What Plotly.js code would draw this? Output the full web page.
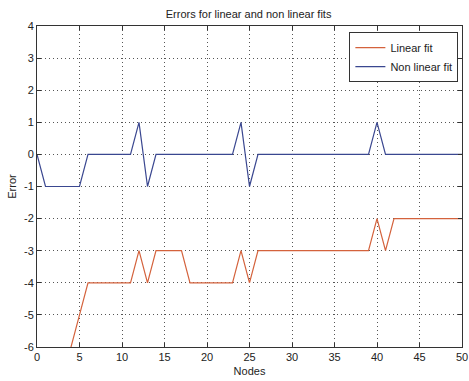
<!DOCTYPE html>
<html>
<head>
<meta charset="utf-8">
<script src="https://cdn.plot.ly/plotly-3.0.1.min.js"></script>
<style>
html,body{margin:0;padding:0;background:#fff;}
#chart{width:469px;height:381px;}
</style>
</head>
<body>
<div id="chart"></div>
<script>
const nodes = [0,1,2,3,4,5,6,7,8,9,10,11,12,13,14,15,16,17,18,19,20,21,22,23,24,25,26,27,28,29,30,31,32,33,34,35,36,37,38,39,40,41,42,43,44,45,46,47,48,49,50];
const linearFit = [-10,-9,-8,-7,-6,-5,-4,-4,-4,-4,-4,-4,-3,-4,-3,-3,-3,-3,-4,-4,-4,-4,-4,-4,-3,-4,-3,-3,-3,-3,-3,-3,-3,-3,-3,-3,-3,-3,-3,-3,-2,-3,-2,-2,-2,-2,-2,-2,-2,-2,-2];
const nonLinearFit = [0,-1,-1,-1,-1,-1,0,0,0,0,0,0,1,-1,0,0,0,0,0,0,0,0,0,0,1,-1,0,0,0,0,0,0,0,0,0,0,0,0,0,0,1,0,0,0,0,0,0,0,0,0,0];
const seriesNames = ["Linear fit", "Non linear fit"];
const titleText = "Errors for linear and non linear fits";
const xLabel = "Nodes";
const yLabel = "Error";
const xTicks = [0,5,10,15,20,25,30,35,40,45,50];
const yTicks = [-6,-5,-4,-3,-2,-1,0,1,2,3,4];

const FONT = '"Liberation Sans", Arial, sans-serif';
const FS = 11;

const traces = [
  {x: nodes, y: linearFit, name: seriesNames[0], type: 'scatter', mode: 'lines',
   line: {color: '#d4623c', width: 1.2}},
  {x: nodes, y: nonLinearFit, name: seriesNames[1], type: 'scatter', mode: 'lines',
   line: {color: '#3a4790', width: 1.2}}
];

const axisCommon = {
  showline: true, linecolor: '#333', linewidth: 1, mirror: 'ticks',
  ticks: 'inside', ticklen: 4, tickcolor: '#333',
  showgrid: true, gridcolor: '#555', gridwidth: 1, griddash: '1px,3px',
  zeroline: false, ticklabeloverflow: 'allow',
  tickfont: {family: FONT, size: FS, color: '#222'}
};

const layout = {
  width: 469, height: 381,
  margin: {l: 37, r: 7, t: 26, b: 34},
  paper_bgcolor: '#fff', plot_bgcolor: '#fff',
  font: {family: FONT, size: FS, color: '#222'},
  title: {text: titleText, font: {family: FONT, size: FS, color: '#222'}, x: 0.53, xanchor: 'center', y: 0.963, yanchor: 'middle'},
  xaxis: Object.assign({}, axisCommon, {
    range: [0, 50], tickvals: xTicks, ticktext: xTicks.map(String),
    title: {text: xLabel, font: {family: FONT, size: FS, color: '#222'}, standoff: 5}
  }),
  yaxis: Object.assign({}, axisCommon, {
    range: [-6, 4], tickvals: yTicks, ticktext: yTicks.map(String),
    title: {text: yLabel, font: {family: FONT, size: FS, color: '#222'}, standoff: 5}
  }),
  showlegend: true,
  legend: {x: 0.735, xanchor: 'left', y: 0.981, yanchor: 'top',
    bgcolor: '#fff', bordercolor: '#333', borderwidth: 1,
    font: {family: FONT, size: FS, color: '#222'}, tracegroupgap: 0, itemwidth: 30}
};

Plotly.newPlot('chart', traces, layout, {staticPlot: true, displayModeBar: false});
</script>
</body>
</html>
